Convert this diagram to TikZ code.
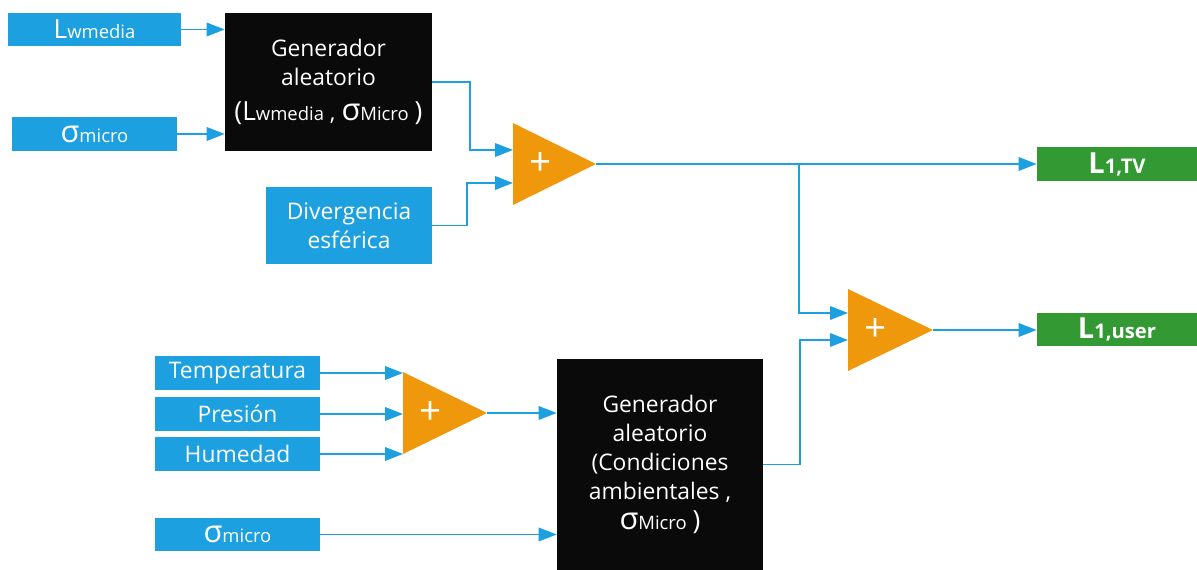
\documentclass[tikz,border=0pt]{standalone}
\usepackage{fontspec}
\setmainfont{Open Sans}
\usetikzlibrary{arrows.meta}
\definecolor{cblue}{RGB}{29,160,224}
\definecolor{corange}{RGB}{240,152,12}
\definecolor{cgreen}{RGB}{51,153,51}
\definecolor{cblack}{RGB}{10,10,10}
% large symbol and small trailing part of a variable name
\newcommand\bigtx[1]{{\fontsize{15}{17}\selectfont #1}}
\newcommand\sigtx{{\fontsize{17.5}{17}\selectfont σ}}
\newcommand\smalltx[1]{{\fontsize{10.5}{12}\selectfont #1}}
\newcommand\outtx[2]{{\fontsize{16.5}{17}\selectfont #1}{\fontsize{11.5}{12}\selectfont #2}}
\begin{document}
\begin{tikzpicture}[x=0.02cm,y=-0.02cm,
  base/.style={inner sep=0pt, align=center, text=white,
    font=\fontsize{13}{16.5}\selectfont},
  inbox/.style={base, fill=cblue},
  genbox/.style={base, fill=cblack},
  outbox/.style={base, fill=cgreen, font=\bfseries\fontsize{13}{16.5}\selectfont},
  conn/.style={draw=cblue, line width=1.1pt, -{Triangle[length=0.36cm,width=0.27cm]}},
  adder/.style={fill=corange},
  plus/.style={text=white, inner sep=0pt, font=\fontsize{22}{22}\selectfont}]
\useasboundingbox (0,0) rectangle (1197,570);

% input boxes
\node[inbox, minimum width=3.46cm, minimum height=0.66cm] (lw) at (94.5,29.5) {\bigtx{L}\smalltx{wmedia}};
\node[inbox, minimum width=3.30cm, minimum height=0.68cm] (sm1) at (94.5,134) {\sigtx\smalltx{micro}};
\node[inbox, minimum width=3.32cm, minimum height=1.54cm] (div) at (349,225.5) {Divergencia\\esférica};
\node[inbox, minimum width=3.30cm, minimum height=0.68cm] (temp) at (237.5,373) {Temperatura};
\node[inbox, minimum width=3.30cm, minimum height=0.68cm] (pres) at (237.5,414) {Presión};
\node[inbox, minimum width=3.30cm, minimum height=0.68cm] (hum) at (237.5,454) {Humedad};
\node[inbox, minimum width=3.30cm, minimum height=0.68cm] (sm2) at (237.5,534.5) {\sigtx\smalltx{micro}};

% random generators
\node[genbox, minimum width=4.14cm, minimum height=2.76cm] (gen1) at (328.5,82)
  {Generador\\aleatorio\\[3pt]\bigtx{(L}\smalltx{wmedia} , \sigtx\smalltx{Micro} \bigtx{)}};
\node[genbox, minimum width=4.12cm, minimum height=4.22cm] (gen2) at (660,464.5)
  {Generador\\aleatorio\\(Condiciones\\ambientales ,\\[1pt]\sigtx\smalltx{Micro} \bigtx{)}};

% outputs
\node[outbox, minimum width=3.20cm, minimum height=0.68cm] (tv) at (1117,164) {\outtx{L}{1,TV}};
\node[outbox, minimum width=3.20cm, minimum height=0.66cm] (user) at (1117,329.5) {\outtx{L}{1,user}};

% adders
\fill[adder] (513,123) -- (513,205) -- (596,164) -- cycle;
\coordinate (a1in1) at (513,150);
\coordinate (a1in2) at (513,183);
\coordinate (a1tip) at (596,164);
\node[plus] (a1) at (541,164) {+};

\fill[adder] (848,289) -- (848,371) -- (933,330) -- cycle;
\coordinate (a2in1) at (848,313);
\coordinate (a2in2) at (848,340);
\coordinate (a2tip) at (933,330);
\node[plus] (a2) at (876,330) {+};

\fill[adder] (403,372) -- (403,454) -- (487,413) -- cycle;
\coordinate (a3in1) at (403,373);
\coordinate (a3in2) at (403,414);
\coordinate (a3in3) at (403,454);
\coordinate (a3tip) at (487,413);
\node[plus] (a3) at (431,413) {+};

% connectors
\draw[conn] (lw.east) -- (lw.east -| gen1.west);
\draw[conn] (sm1.east) -- (sm1.east -| gen1.west);
\draw[conn] (gen1.east) -- (470,82) |- (a1in1);
\draw[conn] (div.east) -- (467,225.5) |- (a1in2);
\draw[conn] (a1tip) -- (a1tip -| tv.west);
\coordinate (br) at (799,164);
\draw[conn] (br) |- (a2in1);
\draw[conn] (gen2.east) -- (800,464.5) |- (a2in2);
\draw[conn] (a2tip) -- (a2tip -| user.west);
\draw[conn] (temp.east) -- (a3in1);
\draw[conn] (pres.east) -- (a3in2);
\draw[conn] (hum.east) -- (a3in3);
\draw[conn] (a3tip) -- (a3tip -| gen2.west);
\draw[conn] (sm2.east) -- (sm2.east -| gen2.west);
\end{tikzpicture}
\end{document}
